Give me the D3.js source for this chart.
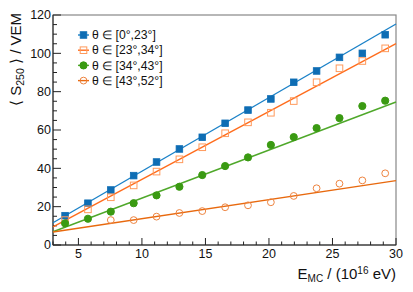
<!DOCTYPE html>
<html>
<head>
<meta charset="utf-8">
<script src="https://cdn.jsdelivr.net/npm/d3@7"></script>
<style>
  body { margin: 0; background: #fff; }
  text { font-family: "Liberation Sans", Arial, sans-serif; fill: #111; }
</style>
</head>
<body>
<div id="chart"></div>
<script>
// energies (10^16 eV) of the bins
const energies = [3.95, 5.75, 7.55, 9.35, 11.15, 12.95, 14.75, 16.55, 18.35, 20.15, 21.95, 23.75, 25.55, 27.35, 29.15];

const s0to23  = [15.3, 21.8, 28.7, 36.2, 43.3, 50.1, 56.2, 63.5, 70.4, 76.2, 84.9, 90.8, 97.9, 100.0, 109.7];
const s23to34 = [13.0, 18.6, 24.9, 31.1, 38.3, 44.7, 51.0, 58.3, 64.0, 69.0, 75.1, 84.9, 92.2, 96.0, 102.6];
const s34to43 = [11.3, 13.7, 17.4, 21.8, 25.9, 30.4, 36.5, 41.2, 45.7, 52.2, 56.3, 61.0, 66.2, 72.5, 75.3];
const s43to52 = [null, null, 13.0, 13.0, 14.8, 16.7, 17.7, 19.7, 20.7, 22.3, 25.6, 29.6, 32.0, 33.7, 37.4];

// linear fits: value at E=3 and at E=30
const fit0to23  = [11.6, 115.3];
const fit23to34 = [9.4, 105.1];
const fit34to43 = [6.9, 74.6];
const fit43to52 = [6.75, 33.6];

const seriesNames = ["θ ∈ [0°,23°]", "θ ∈ [23°,34°]", "θ ∈ [34°,43°]", "θ ∈ [43°,52°]"];

const xTicks = [5, 10, 15, 20, 25, 30];
const yTicks = [0, 20, 40, 60, 80, 100, 120];

const series = [
  {name: seriesNames[0], values: s0to23,  fit: fit0to23,  marker: "square", filled: true,  color: "#0e6db4", line: "#1b82c8"},
  {name: seriesNames[1], values: s23to34, fit: fit23to34, marker: "square", filled: false, color: "#ff9a5c", line: "#ff6c1c"},
  {name: seriesNames[2], values: s34to43, fit: fit34to43, marker: "circle", filled: true,  color: "#3a9a12", line: "#4fa82a"},
  {name: seriesNames[3], values: s43to52, fit: fit43to52, marker: "circle", filled: false, color: "#ee8440", line: "#e8690e"}
];

const W = 413, H = 292;
const margin = {top: 15, right: 17, bottom: 47, left: 53};
const width = W - margin.left - margin.right;
const height = H - margin.top - margin.bottom;

const svg = d3.select("#chart").append("svg")
  .attr("width", W).attr("height", H);

const chart = svg.append("g")
  .attr("transform", `translate(${margin.left},${margin.top})`);

const x = d3.scaleLinear().domain([3, 30]).range([0, width]);
const y = d3.scaleLinear().domain([0, 120]).range([height, 0]);

// frame
chart.append("rect")
  .attr("width", width).attr("height", height)
  .attr("fill", "none").attr("stroke", "#888").attr("stroke-width", 1.2);

// x axis ticks (inside, pointing up)
const xAxis = chart.append("g").attr("transform", `translate(0,${height})`);
xAxis.selectAll(".minor")
  .data(d3.range(3, 30.01, 1))
  .join("line")
  .attr("x1", d => x(d)).attr("x2", d => x(d))
  .attr("y1", 0).attr("y2", d => d % 5 === 0 ? -7 : -3.5)
  .attr("stroke", "#222");
xAxis.append("line").attr("x1", 0).attr("x2", width).attr("stroke", "#222");
xAxis.selectAll("text")
  .data(xTicks)
  .join("text")
  .attr("x", d => x(d)).attr("y", 13)
  .attr("text-anchor", "middle")
  .style("font-size", "12.5px")
  .text(d => d);

// y axis ticks (inside, pointing right)
const yAxis = chart.append("g");
yAxis.selectAll("line.t")
  .data(d3.range(0, 120.01, 5))
  .join("line")
  .attr("class", "t")
  .attr("y1", d => y(d)).attr("y2", d => y(d))
  .attr("x1", 0).attr("x2", d => d % 20 === 0 ? 8 : 4)
  .attr("stroke", "#222");
yAxis.append("line").attr("y1", 0).attr("y2", height).attr("stroke", "#222");
yAxis.selectAll("text")
  .data(yTicks)
  .join("text")
  .attr("x", -2).attr("y", d => y(d))
  .attr("dy", "0.35em")
  .attr("text-anchor", "end")
  .style("font-size", "12.5px")
  .text(d => d);

// fit lines
series.forEach(s => {
  chart.append("line")
    .attr("x1", x(3)).attr("y1", y(s.fit[0]))
    .attr("x2", x(30)).attr("y2", y(s.fit[1]))
    .attr("stroke", s.line).attr("stroke-width", 1.4);
});

function drawMarker(g, s, cx, cy) {
  if (s.marker === "square") {
    g.append("rect")
      .attr("x", cx - 3.3).attr("y", cy - 3.3)
      .attr("width", 6.6).attr("height", 6.6)
      .attr("fill", s.filled ? s.color : "none")
      .attr("stroke", s.color).attr("stroke-width", s.filled ? 0.8 : 1);
  } else {
    g.append("circle")
      .attr("cx", cx).attr("cy", cy).attr("r", s.filled ? 3.6 : 3.4)
      .attr("fill", s.filled ? s.color : "none")
      .attr("stroke", s.color).attr("stroke-width", 1);
  }
}

// data points
series.forEach(s => {
  const g = chart.append("g");
  s.values.forEach((v, i) => {
    if (v == null) return;
    drawMarker(g, s, x(energies[i]), y(v));
  });
});

// legend
const legend = chart.append("g").attr("transform", "translate(25,20)");
series.forEach((s, i) => {
  const row = legend.append("g").attr("transform", `translate(0,${i * 15.2})`);
  row.append("line").attr("x1", 0).attr("x2", 11).attr("stroke", s.line).attr("stroke-width", 1.4);
  drawMarker(row, s, 5.5, 0);
  row.append("text")
    .attr("x", 14).attr("y", 0).attr("dy", "0.35em")
    .style("font-size", "12.2px")
    .text(s.name);
});

// axis titles
const xTitle = svg.append("text")
  .attr("x", margin.left + width).attr("y", 279)
  .attr("text-anchor", "end")
  .style("font-size", "15px");
xTitle.append("tspan").text("E");
xTitle.append("tspan").attr("dy", 3).style("font-size", "10px").text("MC");
xTitle.append("tspan").attr("dy", -3).text(" / (10");
xTitle.append("tspan").attr("dy", -5).style("font-size", "10px").text("16");
xTitle.append("tspan").attr("dy", 5).text(" eV)");

const yTitle = svg.append("text")
  .attr("transform", "translate(21,13) rotate(-90)")
  .attr("text-anchor", "end")
  .style("font-size", "15px");
yTitle.append("tspan").text("⟨ S");
yTitle.append("tspan").attr("dy", 3).style("font-size", "10.5px").text("250");
yTitle.append("tspan").attr("dy", -3).text(" ⟩ / VEM");
</script>
</body>
</html>
